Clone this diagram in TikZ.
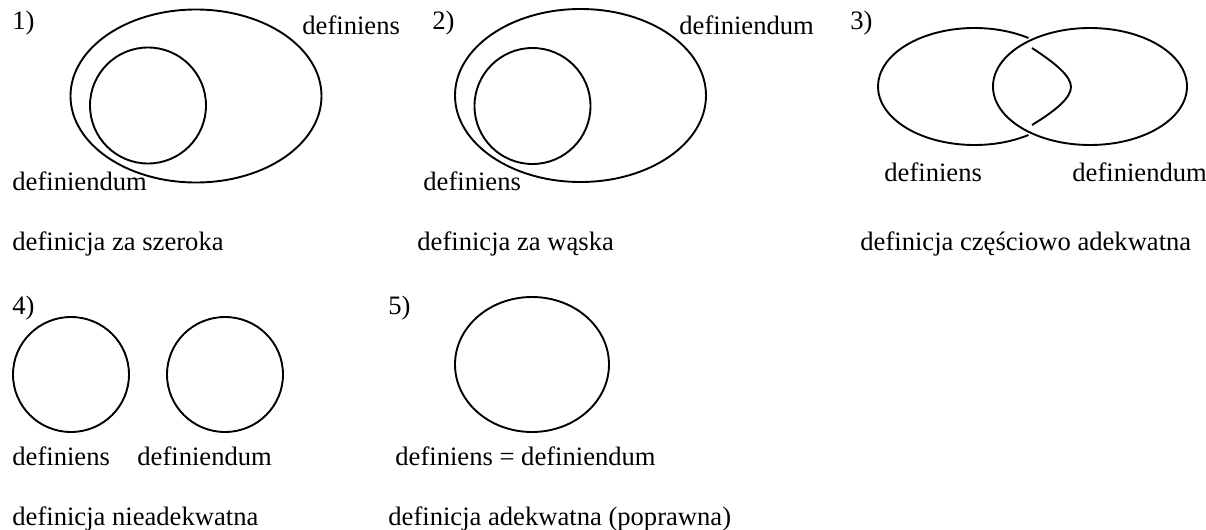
\documentclass[tikz,border=0pt]{standalone}
\usepackage{fontspec}
\setmainfont{Liberation Serif}
\usetikzlibrary{positioning}

\tikzset{
  zbior/.style={line width=0.95pt, black},
  lbl/.style={anchor=base west, inner sep=0pt, font=\fontsize{13.3}{16}\selectfont}
}

\begin{document}
\begin{tikzpicture}[x=0.5pt, y=-0.5pt]
\useasboundingbox (0,0) rectangle (1206,530);

% ================= 1) TOO WIDE =================
\node[lbl] (n1) at (12,30) {1)};
\draw[zbior] (196,96) ellipse[x radius=125.5, y radius=86.5];
\draw[zbior] (148,105.5) circle[radius=58];
\node[lbl] (a1) at (302,34) {definiens};
\node[lbl] (b1) at (12,190) {definiendum};
\node[lbl] (c1) at (12,250) {definicja za szeroka};

% ================= 2) TOO NARROW =================
\node[lbl] (n2) at (432,30) {2)};
\draw[zbior] (580.5,95.5) ellipse[x radius=125.5, y radius=86.5];
\draw[zbior] (532.5,106) circle[radius=58];
\node[lbl] (a2) at (679,34) {definiendum};
\node[lbl] (b2) at (423,190) {definiens};
\node[lbl] (c2) at (417,250) {definicja za wąska};

% ================= 3) PARTLY ADEQUATE =================
\node[lbl] (n3) at (850,30) {3)};
\draw[zbior] (974.5,86.5) ++(56:96.5 and 58.5)
  arc[start angle=56, end angle=304, x radius=96.5, y radius=58.5];
\draw[zbior] (1032,48) .. controls (1055,63) and (1071,76) .. (1071,87)
  .. controls (1071,98) and (1055,111) .. (1032,125);
\draw[zbior] (1090,86.5) ellipse[x radius=97, y radius=58.5];
\node[lbl] (a3) at (884,181) {definiens};
\node[lbl] (b3) at (1072,181) {definiendum};
\node[lbl] (c3) at (860,250) {definicja częściowo adekwatna};

% ================= 4) NOT ADEQUATE =================
\node[lbl] (n4) at (12,314) {4)};
\draw[zbior] (71,374.5) circle[x radius=58, y radius=57.5];
\draw[zbior] (225,374.5) circle[x radius=58, y radius=57.5];
\node[lbl] (a4) at (12,465) {definiens};
\node[lbl] (b4) at (137,465) {definiendum};
\node[lbl] (c4) at (12,525) {definicja nieadekwatna};

% ================= 5) ADEQUATE =================
\node[lbl] (n5) at (388,314) {5)};
\draw[zbior] (532,364.5) ellipse[x radius=77, y radius=67.5];
\node[lbl] (a5) at (395,465) {definiens = definiendum};
\node[lbl] (c5) at (388,525) {definicja adekwatna (poprawna)};

\end{tikzpicture}
\end{document}
